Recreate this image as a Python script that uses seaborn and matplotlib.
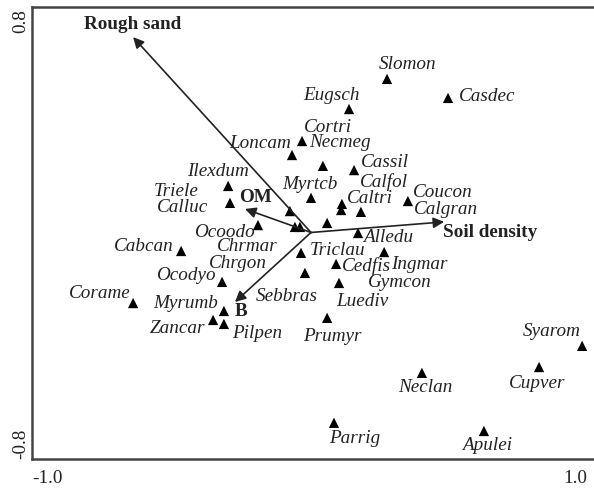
import numpy as np
import pandas as pd
import seaborn as sns
import matplotlib
matplotlib.use("Agg")
import matplotlib.pyplot as plt

# species scores (CCA axis 1 / axis 2)
species = ["Slomon", "Casdec", "Eugsch", "Cortri", "Necmeg", "Loncam", "Cassil",
           "Calfol", "Caltri", "Calgran", "Myrtcb", "Coucon", "Ilexdum", "Triele",
           "Calluc", "Ocoodo", "Chrmar", "Chrgon", "Luediv", "Alledu", "Triclau",
           "Ingmar", "Cedfis", "Sebbras", "Gymcon", "Prumyr", "Cabcan", "Ocodyo",
           "Corame", "Myrumb", "Zancar", "Pilpen", "Syarom", "Cupver", "Neclan",
           "Parrig", "Apulei"]
axis1 = [0.288, 0.519, 0.144, -0.034, 0.045, -0.072, 0.163,
         0.117, 0.114, 0.189, 0.000, 0.367, -0.314, -0.080,
         -0.307, -0.201, -0.061, -0.042, 0.061, 0.178, -0.038,
         0.277, 0.095, -0.023, 0.106, 0.061, -0.492, -0.337,
         -0.674, -0.330, -0.371, -0.330, 1.027, 0.864, 0.420,
         0.087, 0.655]
axis2 = [0.581, 0.509, 0.467, 0.346, 0.252, 0.293, 0.236,
         0.108, 0.085, 0.078, 0.131, 0.119, 0.176, 0.081,
         0.112, 0.028, 0.021, 0.021, 0.036, -0.002, -0.077,
         -0.074, -0.119, -0.153, -0.191, -0.323, -0.070, -0.187,
         -0.267, -0.297, -0.331, -0.346, -0.429, -0.509, -0.531,
         -0.720, -0.751]

# environmental variables (biplot arrows)
env_vars = ["Rough sand", "Soil density", "OM", "B"]
env_x = [-0.674, 0.504, -0.250, -0.288]
env_y = [0.739, 0.040, 0.089, -0.263]

# label placement, pixels from the point
lab_off = {
    "Slomon": (21, 14), "Casdec": (39, 1), "Eugsch": (-18, 14), "Cortri": (26, 14),
    "Necmeg": (17, 23), "Loncam": (-32, 12), "Cassil": (31, 8), "Calfol": (42, 22),
    "Caltri": (29, 12), "Calgran": (85, 2), "Myrtcb": (-1, 13), "Coucon": (35, 9),
    "Ilexdum": (-10, 14), "Triele": (-114, 20), "Calluc": (-47, -5), "Ocoodo": (-34, -7),
    "Chrmar": (-48, -20), "Chrgon": (-62, -37), "Luediv": (35, -79), "Alledu": (30, -4),
    "Triclau": (37, 2), "Ingmar": (35, -12), "Cedfis": (30, -2), "Sebbras": (-18, -24),
    "Gymcon": (61, 0), "Prumyr": (5, -19), "Cabcan": (-37, 4), "Ocodyo": (-36, 6),
    "Corame": (-33, 10), "Myrumb": (-38, 7), "Zancar": (-36, -9), "Pilpen": (33, -10),
    "Syarom": (-30, 14), "Cupver": (-2, -16), "Neclan": (3, -15), "Parrig": (21, -16),
    "Apulei": (3, -15),
}
env_off = {"Rough sand": (0, 13), "Soil density": (46, -11), "OM": (10, 11), "B": (6, -10)}

df = pd.DataFrame({"species": species, "ax1": axis1, "ax2": axis2})

sns.set_style("white")
plt.rcParams["font.family"] = ["Liberation Serif", "DejaVu Serif"]
plt.rcParams["font.size"] = 13.8

fig = plt.figure(figsize=(5.94, 4.88), dpi=100)
ax = fig.add_axes([32 / 594, 29 / 488, 562 / 594, 452 / 488])

sns.scatterplot(data=df, x="ax1", y="ax2", marker="^", s=55, color="black",
                edgecolor="none", ax=ax, zorder=3)

for name, x, y in zip(species, axis1, axis2):
    dx, dy = lab_off[name]
    ax.annotate(name, (x, y), xytext=(dx, dy), textcoords="offset pixels",
                ha="center", va="center", fontstyle="italic", color="#222222")

for name, x, y in zip(env_vars, env_x, env_y):
    ax.annotate("", xy=(x, y), xytext=(0, 0),
                arrowprops=dict(arrowstyle="-|>", mutation_scale=16, lw=1.2,
                                color="#222222", shrinkA=0, shrinkB=0))
    dx, dy = env_off[name]
    ax.annotate(name, (x, y), xytext=(dx, dy), textcoords="offset pixels",
                ha="center", va="center", fontweight="bold", color="#222222")

ax.set_xlim(-1.057, 1.072)
ax.set_ylim(-0.857, 0.853)
ax.set_xticks([-1.0, 1.0])
ax.set_xticklabels(["-1.0", "1.0"])
ax.set_yticks([-0.8, 0.8])
ax.set_yticklabels(["-0.8", "0.8"], rotation=90, va="center")
ax.tick_params(length=0, labelcolor="#222222")
ax.tick_params(axis="x", pad=8)
ax.tick_params(axis="y", pad=2)
ax.set_xlabel("")
ax.set_ylabel("")
for side in ["left", "bottom", "top"]:
    ax.spines[side].set_color("#444444")
    ax.spines[side].set_linewidth(1.8)
ax.spines["right"].set_visible(False)

fig.savefig("out.png", dpi=100)
